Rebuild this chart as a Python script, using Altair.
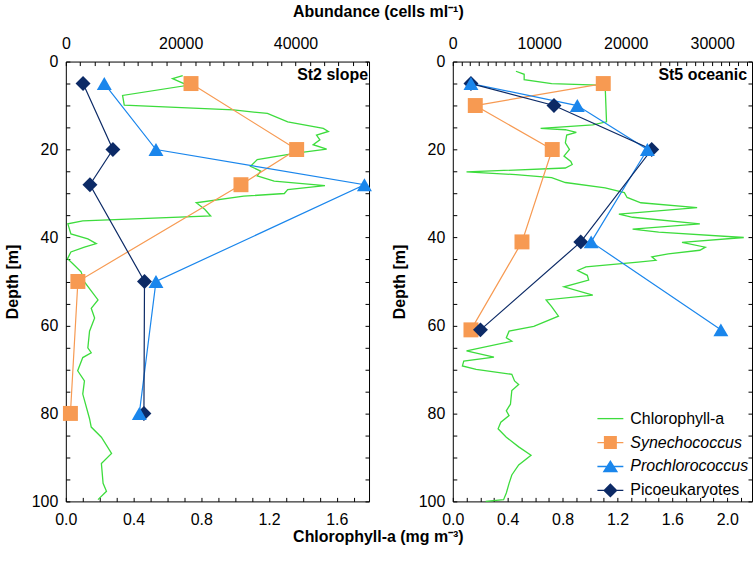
import altair as alt
import pandas as pd

# ---- series names and colours -------------------------------------------
SERIES = ["Chlorophyll-a", "Synechococcus", "Prochlorococcus", "Picoeukaryotes"]
COLORS = ["#3ddc3d", "#f79a52", "#1a86ec", "#0c2a66"]
STATIONS = ["St2 slope", "St5 oceanic"]

# ---- St2 slope -------------------------------------------------------------
st2_chl_depth = [3.2, 3.9, 5.4, 7.7, 9.9, 11.0, 11.8, 13.7, 15.2, 15.9,
                 16.7, 17.8, 18.9, 19.9, 20.8, 22.3, 23.8, 24.9, 26.0, 27.2,
                 28.2, 29.1, 30.0, 30.6, 32.1, 33.6, 35.1, 36.2, 36.9, 39.2,
                 40.3, 41.4, 42.2, 43.3, 44.8, 45.9, 47.8, 50.1, 54.2, 56.1,
                 58.3, 61.3, 65.1, 66.2, 67.3, 70.3, 72.6, 75.6, 81.2, 83.1,
                 85.4, 89.1, 91.4, 95.9, 97.7, 99.6]
st2_chl = [0.69, 0.63, 0.72, 0.335, 0.345, 0.99, 1.19, 1.31, 1.52, 1.55,
           1.48, 1.50, 1.46, 1.54, 1.36, 1.13, 1.09, 1.15, 1.13, 1.23,
           1.53, 1.31, 1.29, 1.05, 0.77, 0.82, 0.855, 0.10, 0.012, 0.03,
           0.13, 0.18, 0.11, 0.03, 0.01, 0.04, 0.09, 0.11, 0.19, 0.15,
           0.17, 0.14, 0.13, 0.15, 0.10, 0.07, 0.11, 0.10, 0.14, 0.15,
           0.21, 0.27, 0.21, 0.22, 0.24, 0.19]
st2_depth = [5, 20, 28, 50, 80]
st2_syn = [21800, 40200, 30500, 2100, 800]
st2_pro = [6700, 15700, 52000, 15700, 12800]
st2_pico = [3000, 8200, 4200, 13700, 13600]

# ---- St5 oceanic -----------------------------------------------------------
st5_chl_depth = [2.2, 2.9, 4.1, 5.0, 5.4, 13.7, 14.4, 15.2, 15.5, 16.1,
                 16.7, 18.5, 20.0, 21.5, 22.7, 23.4, 24.2, 25.1, 25.7, 26.4,
                 27.5, 28.7, 29.8, 30.9, 32.1, 33.2, 34.7, 35.4, 36.9, 38.1,
                 38.8, 40.0, 41.1, 42.2, 42.9, 43.7, 44.4, 45.2, 45.6, 46.7,
                 47.5, 48.6, 49.7, 51.2, 53.1, 54.2, 55.7, 57.9, 60.2, 61.3,
                 62.8, 63.6, 65.8, 67.2, 68.1, 69.2, 70.0, 71.1, 72.6, 73.4,
                 74.8, 77.9, 79.4, 80.5, 82.0, 83.5, 85.4, 87.6, 89.5, 91.7,
                 94.0, 95.9, 98.1, 99.6, 100.0]
st5_chl = [0.46, 0.52, 0.52, 0.72, 1.11, 1.12, 1.02, 0.64, 0.82, 0.90,
           0.83, 0.82, 0.85, 0.81, 0.86, 0.87, 0.82, 0.10, 0.46, 0.72,
           0.82, 1.11, 1.25, 1.27, 1.37, 1.78, 1.21, 1.31, 1.80, 1.31,
           1.50, 2.12, 1.67, 1.84, 1.80, 1.57, 1.45, 1.48, 1.35, 0.97,
           0.91, 0.98, 0.99, 0.81, 1.02, 0.68, 0.72, 0.77, 0.59, 0.41,
           0.39, 0.43, 0.10, 0.30, 0.08, 0.07, 0.17, 0.43, 0.45, 0.48,
           0.43, 0.42, 0.39, 0.41, 0.35, 0.33, 0.39, 0.48, 0.57, 0.48,
           0.43, 0.41, 0.39, 0.37, 0.24]
st5_depth = [5, 10, 20, 41, 61]
st5_syn = [17400, 2600, 11500, 8000, 2100]
st5_pro = [2100, 14400, 22500, 16000, 31000]
st5_pico = [2100, 11700, 23000, 14800, 3200]

# legend glyphs: a short line with the marker drawn on top of it
STUB = "M-1,-0.05H1V0.05H-1Z"
LEGEND_SHAPES = [
    STUB,
    STUB + " M-0.5,-0.5H0.5V0.5H-0.5Z",
    STUB + " M0,-0.5L0.6,0.45H-0.6Z",
    STUB + " M0,-0.55L0.55,0L0,0.55L-0.55,0Z",
]
MARKERS = {"Synechococcus": "square", "Prochlorococcus": "triangle-up",
           "Picoeukaryotes": "diamond"}

FONT = "Liberation Sans"
HEIGHT = 441
DEPTH_TICKS = list(range(0, 101, 5))


def chl_frame(depth, chl):
    return pd.DataFrame({"depth": depth, "chl": chl,
                         "step": list(range(len(depth))),
                         "series": SERIES[0]})


def cells_frame(depth, syn, pro, pico):
    rows = []
    for name, vals in zip(SERIES[1:], (syn, pro, pico)):
        for d, v in zip(depth, vals):
            rows.append({"depth": d, "cells": v, "series": name})
    return pd.DataFrame(rows)


def panel(station, chl_df, cells_df, chl_max, chl_ticks, cells_max,
          cells_ticks, cells_major, width, legend, label_x):
    color_scale = alt.Scale(domain=SERIES, range=COLORS)
    y_scale = alt.Scale(domain=[0, 100], reverse=True, nice=False, zero=False)
    chl_scale = alt.Scale(domain=[0, chl_max], nice=False, zero=False)
    cells_scale = alt.Scale(domain=[0, cells_max], nice=False, zero=False)
    no_legend = alt.Color("series:N", scale=color_scale, legend=None)

    chl_line = alt.Chart(chl_df).mark_line(strokeWidth=1.3).encode(
        x=alt.X("chl:Q", scale=chl_scale, axis=alt.Axis(
            orient="bottom", values=chl_ticks, title=None, offset=-4,
            labelPadding=10,
            labelExpr="abs(datum.value*2.5 - round(datum.value*2.5)) < 0.001"
                      " ? format(datum.value, '.1f') : ''")),
        y=alt.Y("depth:Q", scale=y_scale, axis=alt.Axis(
            orient="left", values=DEPTH_TICKS, title="Depth [m]", offset=-4,
            labelPadding=8, titlePadding=11,
            labelExpr="datum.value % 20 == 0 ? format(datum.value, 'd') : ''")),
        order="step:Q",
        color=no_legend,
    )

    cells_lines = alt.Chart(cells_df).mark_line(strokeWidth=1.2).encode(
        x=alt.X("cells:Q", scale=cells_scale, axis=alt.Axis(
            orient="top", values=cells_ticks, title=None, offset=-4,
            labelPadding=10,
            labelExpr=f"datum.value % {cells_major} == 0"
                      " ? format(datum.value, 'd') : ''")),
        y=alt.Y("depth:Q", scale=y_scale, axis=alt.Axis(
            orient="right", values=DEPTH_TICKS, title=None, offset=-4,
            labels=False)),
        order="depth:Q",
        color=no_legend,
    )

    point_layers = []
    for name in ["Synechococcus", "Picoeukaryotes", "Prochlorococcus"]:
        point_layers.append(
            alt.Chart(cells_df).transform_filter(
                alt.datum.series == name
            ).mark_point(shape=MARKERS[name], filled=True, opacity=1,
                         size=225, strokeWidth=0).encode(
                x=alt.X("cells:Q", scale=cells_scale, axis=None),
                y=alt.Y("depth:Q", scale=y_scale, axis=None),
                color=no_legend,
            )
        )

    label = alt.Chart(pd.DataFrame({"station": [station]})).mark_text(
        align="right", baseline="alphabetic", fontSize=16, fontWeight="bold",
        font=FONT, color="black",
    ).encode(text="station:N", x=alt.value(label_x), y=alt.value(18))

    layers = []
    if legend:
        carrier = alt.Chart(pd.DataFrame({"series": SERIES})).transform_filter(
            "false"
        ).mark_point(filled=True, opacity=1, size=676).encode(
            color=alt.Color("series:N", scale=color_scale, legend=alt.Legend(
                title=None, orient="bottom-right", offset=3, padding=0,
                symbolSize=676, symbolStrokeWidth=0, labelFontSize=16,
                labelFont=FONT, labelColor="black", labelOffset=7,
                rowPadding=3, labelLimit=300,
                labelFontStyle={"expr": "datum.label == 'Synechococcus' || "
                                        "datum.label == 'Prochlorococcus'"
                                        " ? 'italic' : 'normal'"})),
            shape=alt.Shape("series:N", scale=alt.Scale(domain=SERIES,
                                                        range=LEGEND_SHAPES)),
        )
        layers.append(carrier)
    layers += [chl_line, cells_lines] + point_layers + [label]

    return alt.layer(*layers).resolve_scale(x="independent").properties(
        width=width, height=HEIGHT)


left = panel(STATIONS[0], chl_frame(st2_chl_depth, st2_chl),
             cells_frame(st2_depth, st2_syn, st2_pro, st2_pico),
             1.79, [round(i * 0.1, 1) for i in range(18)],
             52800, list(range(0, 52501, 2500)), 20000, 304, False, 303)
right = panel(STATIONS[1], chl_frame(st5_chl_depth, st5_chl),
              cells_frame(st5_depth, st5_syn, st5_pro, st5_pico),
              2.18, [round(i * 0.1, 1) for i in range(22)],
              34600, list(range(0, 34001, 1000)), 10000, 300, True, 295)

row = alt.hconcat(left, right, spacing=17).resolve_scale(
    color="independent", shape="independent"
).properties(title=alt.TitleParams(
    "Chlorophyll-a (mg m⁻³)", orient="bottom", anchor="middle",
    fontSize=16, fontWeight="bold", font=FONT, color="black", offset=1))

chart = alt.vconcat(row).properties(
    title=alt.TitleParams("Abundance (cells ml⁻¹)", anchor="middle",
                          fontSize=16, fontWeight="bold", font=FONT,
                          color="black", offset=15),
    padding={"left": 3, "top": 3, "right": 0, "bottom": 0},
).configure_view(stroke="black", strokeWidth=1).configure_axis(
    domain=False, grid=False, tickSize=4, tickColor="black", tickWidth=1,
    labelColor="black", labelFontSize=16, labelFont=FONT, labelFlush=False,
    labelOverlap=False, titleFont=FONT, titleFontSize=16,
    titleFontWeight="bold", titleColor="black",
).configure_legend(labelFont=FONT)

chart.save("out.html", embed_options={"renderer": "svg", "actions": False})
